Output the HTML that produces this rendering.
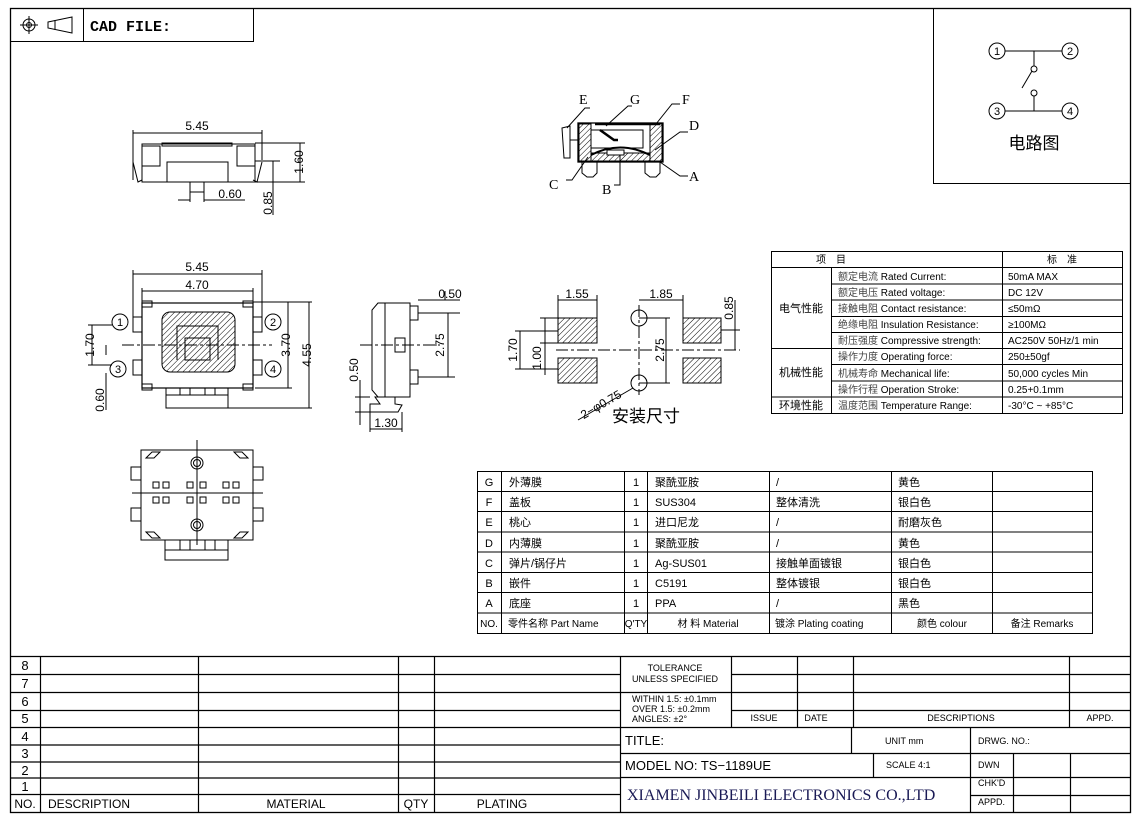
<!DOCTYPE html>
<html><head><meta charset="utf-8"><style>
html,body{margin:0;padding:0;background:#fff}
svg{display:block}
text{font-family:"Liberation Sans","Noto Sans CJK SC",sans-serif;fill:#000}
text.serif{font-family:"Liberation Serif","Noto Serif CJK SC",serif}
text.mono{font-family:"Liberation Mono",monospace}
</style></head><body>
<svg width="1147" height="819" viewBox="0 0 1147 819" xmlns="http://www.w3.org/2000/svg">
<defs>
<pattern id="h" width="4" height="4" patternUnits="userSpaceOnUse" patternTransform="rotate(45)">
<rect width="4" height="4" fill="#fff"/><line x1="0" y1="0" x2="0" y2="4" stroke="#000" stroke-width="1"/></pattern>
</defs>
<g fill="none" stroke="#000" stroke-width="1">
<rect x="10.5" y="8.5" width="1120" height="804" stroke-width="1.3"/>
<rect x="10.5" y="8.5" width="243" height="33"/>
<line x1="83.5" y1="8" x2="83.5" y2="41"/>
<circle cx="29" cy="25" r="6"/><circle cx="29" cy="25" r="2.5"/>
<line x1="20" y1="25" x2="38" y2="25"/><line x1="29" y1="16" x2="29" y2="34"/>
<path d="M48 22 L72 17 L72 33 L48 28 Z"/><line x1="55" y1="20" x2="55" y2="30"/>
<rect x="933.5" y="8.5" width="197" height="175"/>
<circle cx="997" cy="51" r="8"/><circle cx="1070" cy="51" r="8"/>
<circle cx="997" cy="111" r="8"/><circle cx="1070" cy="111" r="8"/>
<line x1="1005" y1="51" x2="1062" y2="51"/><line x1="1005" y1="111" x2="1062" y2="111"/>
<line x1="1034" y1="51" x2="1034" y2="66"/><circle cx="1034" cy="69" r="3"/>
<line x1="1034" y1="111" x2="1034" y2="96"/><circle cx="1034" cy="93" r="3"/>
<line x1="1022" y1="88" x2="1032" y2="71"/>

<line x1="133" y1="133" x2="262" y2="133"/><line x1="133" y1="130" x2="133" y2="180"/><line x1="262" y1="130" x2="262" y2="160"/>
<rect x="142" y="144" width="113" height="38"/>
<rect x="162" y="143" width="70" height="3"/>
<rect x="142" y="146" width="18" height="20"/><rect x="237" y="146" width="18" height="20"/>
<path d="M167 182 V162 H228 V182"/>
<path d="M133 162 L138 182 L142 180 M262 162 L257 182 L253 180"/>
<rect x="190" y="182" width="14" height="10"/>
<line x1="255" y1="143" x2="305" y2="143"/><line x1="255" y1="182" x2="305" y2="182"/>
<line x1="300" y1="143" x2="300" y2="182"/>
<line x1="255" y1="161" x2="280" y2="161"/><line x1="273" y1="161" x2="273" y2="215"/>
<line x1="190" y1="192" x2="190" y2="202"/><line x1="204" y1="192" x2="204" y2="202"/>
<line x1="178" y1="200" x2="190" y2="200"/><line x1="204" y1="200" x2="245" y2="200"/>

<rect x="578" y="123" width="85" height="39" stroke-width="1.3"/>
<rect x="579" y="124" width="12" height="37" fill="url(#h)"/>
<rect x="650" y="124" width="12" height="37" fill="url(#h)"/>
<rect x="591" y="153" width="59" height="8" fill="url(#h)"/>
<rect x="607" y="150" width="17" height="5" fill="#fff"/>
<path d="M591 155 Q620 140 650 155" stroke-width="2"/>
<line x1="595" y1="124" x2="660" y2="124" stroke-width="2.5"/>
<rect x="591" y="130" width="52" height="18"/>
<path d="M600 130 L614 140 L618 140" stroke-width="2.5"/>
<path d="M562 128 L570 126 L570 158 L564 158 Z"/><line x1="570" y1="140" x2="578" y2="140"/>
<path d="M582 162 V173 L587 177 H593 L597 173 V162 M645 162 V173 L650 177 H656 L660 173 V162"/>
<path d="M567 128 L585 108 H590 M606 126 L628 106 H632 M656 124 L672 104 H680 M655 150 L680 132 H688 M588 157 L572 180 H566 M620 155 V185 H614 M660 162 L680 176 H688"/>

<line x1="133" y1="274" x2="262" y2="274"/><line x1="133" y1="270" x2="133" y2="320"/><line x1="262" y1="270" x2="262" y2="320"/>
<line x1="142" y1="291" x2="253" y2="291"/><line x1="142" y1="288" x2="142" y2="302"/><line x1="253" y1="288" x2="253" y2="302"/>
<rect x="142" y="303" width="111" height="85" stroke-width="1.2"/>
<rect x="142" y="301" width="10" height="6"/><rect x="243" y="301" width="10" height="6"/>
<rect x="142" y="384" width="10" height="6"/><rect x="243" y="384" width="10" height="6"/>
<rect x="133" y="317" width="9" height="15"/><rect x="133" y="360" width="9" height="15"/>
<rect x="253" y="317" width="9" height="15"/><rect x="253" y="360" width="9" height="15"/>
<rect x="162" y="312" width="73" height="60" rx="8" fill="url(#h)"/>
<path d="M177 360 V326 H218 V360" stroke-width="1"/>
<rect x="185" y="338" width="25" height="22" fill="url(#h)"/>
<line x1="122" y1="345" x2="272" y2="345" stroke-dasharray="12 3 3 3"/>
<rect x="166" y="388" width="62" height="7"/><rect x="166" y="395" width="62" height="13"/>
<line x1="180" y1="388" x2="180" y2="395"/><line x1="190" y1="388" x2="190" y2="395"/><line x1="205" y1="388" x2="205" y2="395"/><line x1="215" y1="388" x2="215" y2="395"/>
<circle cx="120" cy="322" r="8"/><circle cx="273" cy="322" r="8"/><circle cx="118" cy="369" r="8"/><circle cx="273" cy="369" r="8"/>
<line x1="253" y1="302" x2="312" y2="302"/><line x1="255" y1="388" x2="292" y2="388"/><line x1="228" y1="408" x2="312" y2="408"/>
<line x1="288" y1="302" x2="288" y2="388"/><line x1="309" y1="302" x2="309" y2="408"/>
<line x1="92" y1="325" x2="92" y2="365"/><line x1="88" y1="325" x2="112" y2="325"/><line x1="88" y1="365" x2="112" y2="365"/>
<line x1="106" y1="345" x2="106" y2="355"/><line x1="106" y1="373" x2="106" y2="410"/>

<path d="M378 303 L372 310 V390 L378 397 H410 V303 Z"/>
<rect x="385" y="303" width="25" height="94"/>
<rect x="410" y="306" width="8" height="14"/><rect x="410" y="370" width="8" height="14"/>
<rect x="395" y="338" width="10" height="14"/>
<line x1="360" y1="345" x2="440" y2="345" stroke-dasharray="12 3 3 3"/>
<path d="M375 397 H395 V404 L402 405 L398 412 H370 V404 H380 Z"/>
<line x1="418" y1="300" x2="460" y2="300"/><line x1="418" y1="313" x2="460" y2="313"/><line x1="418" y1="377" x2="455" y2="377"/>
<line x1="448" y1="313" x2="448" y2="377"/><line x1="445" y1="291" x2="445" y2="300"/>
<line x1="355" y1="397" x2="370" y2="397"/><line x1="355" y1="412" x2="370" y2="412"/><line x1="360" y1="380" x2="360" y2="425"/>
<line x1="370" y1="412" x2="370" y2="432"/><line x1="402" y1="412" x2="402" y2="432"/><line x1="370" y1="429" x2="402" y2="429"/>

<rect x="558" y="318" width="39" height="25" fill="url(#h)"/><rect x="558" y="358" width="39" height="25" fill="url(#h)"/>
<rect x="683" y="318" width="38" height="25" fill="url(#h)"/><rect x="683" y="358" width="38" height="25" fill="url(#h)"/>
<circle cx="639" cy="318" r="8"/><circle cx="639" cy="383" r="8"/>
<line x1="556" y1="350" x2="740" y2="350" stroke-dasharray="12 3 3 3"/>
<line x1="639" y1="305" x2="639" y2="395" stroke-dasharray="12 3 3 3"/>
<line x1="558" y1="300" x2="597" y2="300"/><line x1="558" y1="295" x2="558" y2="318"/><line x1="597" y1="295" x2="597" y2="318"/>
<line x1="639" y1="300" x2="683" y2="300"/><line x1="683" y1="295" x2="683" y2="318"/>
<line x1="639" y1="318" x2="670" y2="318"/><line x1="639" y1="383" x2="670" y2="383"/><line x1="666" y1="318" x2="666" y2="383"/>
<line x1="515" y1="331" x2="558" y2="331"/><line x1="515" y1="369" x2="558" y2="369"/><line x1="520" y1="331" x2="520" y2="369"/>
<line x1="540" y1="318" x2="558" y2="318"/><line x1="540" y1="343" x2="558" y2="343"/><line x1="545" y1="318" x2="545" y2="375"/>
<line x1="721" y1="330" x2="740" y2="330"/><line x1="735" y1="300" x2="735" y2="350"/>
<line x1="578" y1="420" x2="633" y2="388"/>

<rect x="141" y="450" width="112" height="90"/>
<rect x="131" y="467" width="10" height="13"/><rect x="131" y="508" width="10" height="13"/>
<rect x="253" y="467" width="10" height="13"/><rect x="253" y="508" width="10" height="13"/>
<circle cx="197" cy="463" r="6"/><circle cx="197" cy="463" r="3.5"/><circle cx="197" cy="525" r="6"/><circle cx="197" cy="525" r="3.5"/>
<path d="M146 458 L152 452 H160 L154 458 Z M248 458 L242 452 H234 L240 458 Z M146 532 L152 538 H160 L154 532 Z M248 532 L242 538 H234 L240 532 Z"/>
<g><rect x="153" y="482" width="6" height="6"/><rect x="163" y="482" width="6" height="6"/><rect x="187" y="482" width="6" height="6"/><rect x="200" y="482" width="6" height="6"/><rect x="223" y="482" width="6" height="6"/><rect x="233" y="482" width="6" height="6"/>
<rect x="153" y="497" width="6" height="6"/><rect x="163" y="497" width="6" height="6"/><rect x="187" y="497" width="6" height="6"/><rect x="200" y="497" width="6" height="6"/><rect x="223" y="497" width="6" height="6"/><rect x="233" y="497" width="6" height="6"/></g>
<line x1="132" y1="493" x2="263" y2="493"/><line x1="197" y1="440" x2="197" y2="545"/>
<rect x="165" y="540" width="63" height="10"/><rect x="165" y="550" width="63" height="10"/>
<line x1="180" y1="540" x2="180" y2="550"/><line x1="190" y1="540" x2="190" y2="550"/><line x1="205" y1="540" x2="205" y2="550"/><line x1="215" y1="540" x2="215" y2="550"/>

<rect x="771.5" y="251.5" width="351" height="162"/>
<line x1="771" y1="267.5" x2="1123" y2="267.5"/>
<line x1="831.5" y1="267" x2="831.5" y2="413"/><line x1="1002.5" y1="251" x2="1002.5" y2="413"/>
<line x1="831" y1="284" x2="1123" y2="284"/><line x1="831" y1="300" x2="1123" y2="300"/><line x1="831" y1="316.5" x2="1123" y2="316.5"/><line x1="831" y1="332.5" x2="1123" y2="332.5"/>
<line x1="771" y1="348.5" x2="1123" y2="348.5"/><line x1="831" y1="364.5" x2="1123" y2="364.5"/><line x1="831" y1="381" x2="1123" y2="381"/><line x1="771" y1="397" x2="1123" y2="397"/>

<rect x="477.5" y="471.5" width="615" height="162"/>
<line x1="477" y1="491.5" x2="1093" y2="491.5"/><line x1="477" y1="511.5" x2="1093" y2="511.5"/><line x1="477" y1="532" x2="1093" y2="532"/><line x1="477" y1="552" x2="1093" y2="552"/><line x1="477" y1="572.5" x2="1093" y2="572.5"/><line x1="477" y1="592.5" x2="1093" y2="592.5"/><line x1="477" y1="613" x2="1093" y2="613"/>
<line x1="501.5" y1="471" x2="501.5" y2="634"/><line x1="624.5" y1="471" x2="624.5" y2="634"/><line x1="647.5" y1="471" x2="647.5" y2="634"/><line x1="769.5" y1="471" x2="769.5" y2="634"/><line x1="891.5" y1="471" x2="891.5" y2="634"/><line x1="992.5" y1="471" x2="992.5" y2="634"/>

<line x1="10" y1="656.5" x2="1131" y2="656.5" stroke-width="1.3"/>
<g stroke-width="1.2">
<line x1="10" y1="674.5" x2="620" y2="674.5"/><line x1="10" y1="692.5" x2="1131" y2="692.5"/><line x1="10" y1="710.5" x2="620" y2="710.5"/><line x1="10" y1="727.5" x2="1131" y2="727.5"/><line x1="10" y1="745" x2="620" y2="745"/><line x1="10" y1="762" x2="620" y2="762"/><line x1="10" y1="778" x2="620" y2="778"/><line x1="10" y1="794.5" x2="620" y2="794.5"/>
<line x1="40.5" y1="656" x2="40.5" y2="812"/><line x1="198.5" y1="656" x2="198.5" y2="812"/><line x1="398.5" y1="656" x2="398.5" y2="812"/><line x1="434.5" y1="656" x2="434.5" y2="812"/><line x1="620.5" y1="656" x2="620.5" y2="812"/>
<line x1="731.5" y1="656" x2="731.5" y2="727"/><line x1="797.5" y1="656" x2="797.5" y2="727"/><line x1="853.5" y1="656" x2="853.5" y2="727"/><line x1="1069.5" y1="656" x2="1069.5" y2="727"/>
<line x1="731" y1="674.5" x2="1131" y2="674.5"/><line x1="731" y1="710.5" x2="1131" y2="710.5"/>
<line x1="620" y1="753.5" x2="1131" y2="753.5"/><line x1="620" y1="777.5" x2="1131" y2="777.5"/><line x1="970" y1="795.5" x2="1131" y2="795.5"/>
<line x1="851.5" y1="727" x2="851.5" y2="753"/><line x1="970.5" y1="727" x2="970.5" y2="812"/><line x1="873.5" y1="753" x2="873.5" y2="777"/><line x1="1013.5" y1="753" x2="1013.5" y2="812"/><line x1="1070.5" y1="753" x2="1070.5" y2="812"/>
</g>
</g>

<text x="90" y="31" font-size="15" font-weight="bold" class="mono">CAD FILE:</text>
<g font-size="11">
<text x="997" y="55" text-anchor="middle">1</text><text x="1070" y="55" text-anchor="middle">2</text><text x="997" y="115" text-anchor="middle">3</text><text x="1070" y="115" text-anchor="middle">4</text>
<text x="120" y="326" text-anchor="middle">1</text><text x="273" y="326" text-anchor="middle">2</text><text x="118" y="373" text-anchor="middle">3</text><text x="273" y="373" text-anchor="middle">4</text>
</g>
<text x="1034" y="149" font-size="17" text-anchor="middle">电路图</text>
<g font-size="12">
<text x="197" y="130" text-anchor="middle">5.45</text><text x="230" y="198" text-anchor="middle">0.60</text>
<text x="303" y="162" transform="rotate(-90 303 162)" text-anchor="middle">1.60</text>
<text x="272" y="203" transform="rotate(-90 272 203)" text-anchor="middle">0.85</text>
<text x="197" y="271" text-anchor="middle">5.45</text><text x="197" y="289" text-anchor="middle">4.70</text>
<text x="290" y="345" transform="rotate(-90 290 345)" text-anchor="middle">3.70</text>
<text x="311" y="355" transform="rotate(-90 311 355)" text-anchor="middle">4.55</text>
<text x="94" y="345" transform="rotate(-90 94 345)" text-anchor="middle">1.70</text>
<text x="104" y="400" transform="rotate(-90 104 400)" text-anchor="middle">0.60</text>
<text x="450" y="298" text-anchor="middle">0.50</text>
<text x="444" y="345" transform="rotate(-90 444 345)" text-anchor="middle">2.75</text>
<text x="358" y="370" transform="rotate(-90 358 370)" text-anchor="middle">0.50</text>
<text x="386" y="427" text-anchor="middle">1.30</text>
<text x="577" y="298" text-anchor="middle">1.55</text><text x="661" y="298" text-anchor="middle">1.85</text>
<text x="733" y="308" transform="rotate(-90 733 308)" text-anchor="middle">0.85</text>
<text x="517" y="350" transform="rotate(-90 517 350)" text-anchor="middle">1.70</text>
<text x="541" y="358" transform="rotate(-90 541 358)" text-anchor="middle">1.00</text>
<text x="664" y="350" transform="rotate(-90 664 350)" text-anchor="middle">2.75</text>
<text x="603" y="408" transform="rotate(-30 603 408)" text-anchor="middle">2−φ0.75</text>
</g>
<text x="646" y="422" font-size="17" text-anchor="middle">安装尺寸</text>
<g font-size="14">
<text class="serif" x="579" y="104">E</text><text class="serif" x="630" y="104">G</text><text class="serif" x="682" y="104">F</text><text class="serif" x="689" y="130">D</text><text class="serif" x="549" y="189">C</text><text class="serif" x="602" y="194">B</text><text class="serif" x="689" y="181">A</text>
</g>
<g font-size="10">
<text x="831" y="263" text-anchor="middle">项　目</text><text x="1062" y="263" text-anchor="middle">标　准</text>
<text x="801" y="312" text-anchor="middle" font-size="11">电气性能</text>
<text x="801" y="376" text-anchor="middle" font-size="11">机械性能</text>
<text x="801" y="409" text-anchor="middle" font-size="11">环境性能</text>
<text x="838" y="280"><tspan fill="#444">额定电流</tspan> Rated Current:</text>
<text x="838" y="296"><tspan fill="#444">额定电压</tspan> Rated voltage:</text>
<text x="838" y="312"><tspan fill="#444">接触电阻</tspan> Contact resistance:</text>
<text x="838" y="328"><tspan fill="#444">绝缘电阻</tspan> Insulation Resistance:</text>
<text x="838" y="344"><tspan fill="#444">耐压强度</tspan> Compressive strength:</text>
<text x="838" y="360"><tspan fill="#444">操作力度</tspan> Operating force:</text>
<text x="838" y="377"><tspan fill="#444">机械寿命</tspan> Mechanical life:</text>
<text x="838" y="393"><tspan fill="#444">操作行程</tspan> Operation Stroke:</text>
<text x="838" y="409"><tspan fill="#444">温度范围</tspan> Temperature Range:</text>
<text x="1008" y="280">50mA MAX</text><text x="1008" y="296">DC 12V</text><text x="1008" y="312">≤50mΩ</text><text x="1008" y="328">≥100MΩ</text><text x="1008" y="344">AC250V  50Hz/1 min</text><text x="1008" y="360">250±50gf</text><text x="1008" y="377">50,000 cycles Min</text><text x="1008" y="393">0.25+0.1mm</text><text x="1008" y="409">-30°C ~ +85°C</text>
</g>
<g font-size="11">
<text x="489" y="486" text-anchor="middle">G</text><text x="509" y="486">外薄膜</text><text x="636" y="486" text-anchor="middle">1</text><text x="655" y="486">聚酰亚胺</text><text x="776" y="486">/</text><text x="898" y="486">黄色</text>
<text x="489" y="506" text-anchor="middle">F</text><text x="509" y="506">盖板</text><text x="636" y="506" text-anchor="middle">1</text><text x="655" y="506">SUS304</text><text x="776" y="506">整体清洗</text><text x="898" y="506">银白色</text>
<text x="489" y="526" text-anchor="middle">E</text><text x="509" y="526">桃心</text><text x="636" y="526" text-anchor="middle">1</text><text x="655" y="526">进口尼龙</text><text x="776" y="526">/</text><text x="898" y="526">耐磨灰色</text>
<text x="489" y="547" text-anchor="middle">D</text><text x="509" y="547">内薄膜</text><text x="636" y="547" text-anchor="middle">1</text><text x="655" y="547">聚酰亚胺</text><text x="776" y="547">/</text><text x="898" y="547">黄色</text>
<text x="489" y="567" text-anchor="middle">C</text><text x="509" y="567">弹片/锅仔片</text><text x="636" y="567" text-anchor="middle">1</text><text x="655" y="567">Ag-SUS01</text><text x="776" y="567">接触单面镀银</text><text x="898" y="567">银白色</text>
<text x="489" y="587" text-anchor="middle">B</text><text x="509" y="587">嵌件</text><text x="636" y="587" text-anchor="middle">1</text><text x="655" y="587">C5191</text><text x="776" y="587">整体镀银</text><text x="898" y="587">银白色</text>
<text x="489" y="607" text-anchor="middle">A</text><text x="509" y="607">底座</text><text x="636" y="607" text-anchor="middle">1</text><text x="655" y="607">PPA</text><text x="776" y="607">/</text><text x="898" y="607">黑色</text>
<g font-size="10"><text x="489" y="627" text-anchor="middle">NO.</text><text x="508" y="627">零件名称  Part Name</text><text x="636" y="627" text-anchor="middle">Q'TY</text><text x="708" y="627" text-anchor="middle">材 料  Material</text><text x="775" y="627">镀涂  Plating coating</text><text x="942" y="627" text-anchor="middle">颜色    colour</text><text x="1042" y="627" text-anchor="middle">备注  Remarks</text></g>
</g>
<g font-size="13">
<text x="25" y="670" text-anchor="middle">8</text><text x="25" y="688" text-anchor="middle">7</text><text x="25" y="706" text-anchor="middle">6</text><text x="25" y="723" text-anchor="middle">5</text><text x="25" y="741" text-anchor="middle">4</text><text x="25" y="758" text-anchor="middle">3</text><text x="25" y="775" text-anchor="middle">2</text><text x="25" y="791" text-anchor="middle">1</text>
<text x="25" y="808" text-anchor="middle" font-size="12">NO.</text><text x="48" y="808" font-size="12">DESCRIPTION</text><text x="296" y="808" text-anchor="middle" font-size="12">MATERIAL</text><text x="416" y="808" text-anchor="middle" font-size="12">QTY</text><text x="502" y="808" text-anchor="middle" font-size="12">PLATING</text>
</g>
<g font-size="9">
<text x="675" y="671" text-anchor="middle">TOLERANCE</text><text x="675" y="682" text-anchor="middle">UNLESS SPECIFIED</text>
<text x="632" y="702">WITHIN 1.5: ±0.1mm</text><text x="632" y="712">OVER 1.5:  ±0.2mm</text><text x="632" y="722">ANGLES: ±2°</text>
<text x="764" y="721" text-anchor="middle">ISSUE</text><text x="816" y="721" text-anchor="middle">DATE</text><text x="961" y="721" text-anchor="middle">DESCRIPTIONS</text><text x="1100" y="721" text-anchor="middle">APPD.</text>
<text x="885" y="744">UNIT mm</text><text x="978" y="744">DRWG. NO.:</text>
<text x="886" y="768">SCALE 4:1</text><text x="978" y="768">DWN</text><text x="978" y="786">CHK'D</text><text x="978" y="805">APPD.</text>
</g>
<text x="625" y="745" font-size="13">TITLE:</text>
<text x="625" y="770" font-size="13">MODEL  NO: TS−1189UE</text>
<text x="627" y="800" font-size="16" class="serif" style="fill:#1a1a55">XIAMEN JINBEILI ELECTRONICS CO.,LTD</text>
</svg>
</body></html>
